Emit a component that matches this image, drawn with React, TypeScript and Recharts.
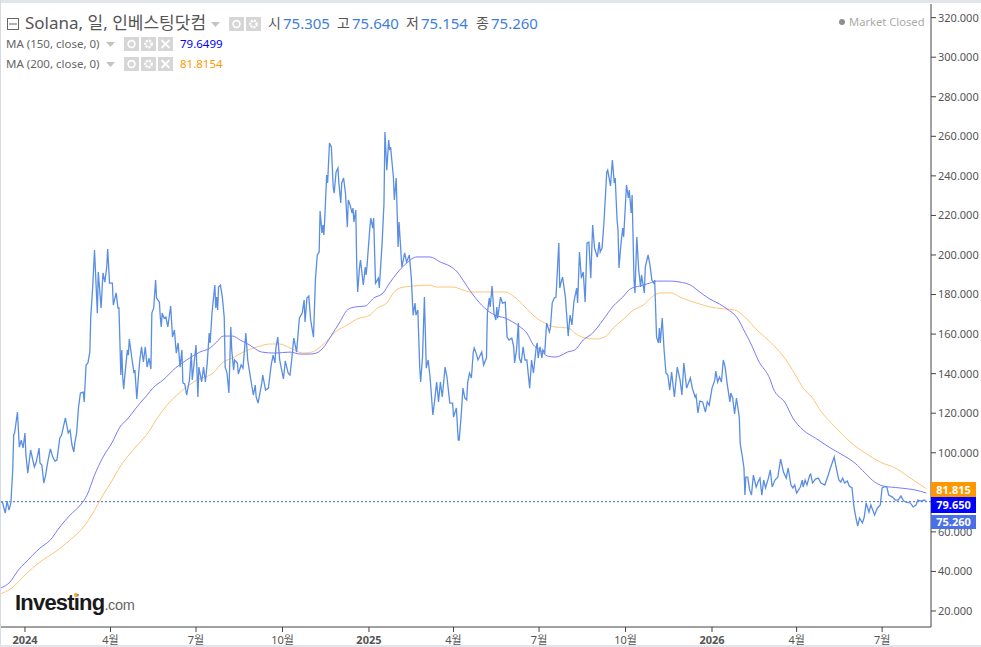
import { ComposedChart, Line, XAxis, YAxis, ReferenceLine } from "recharts";

// days counted from 2024-01-01
const priceDays = [
  -26, -24, -21, -19, -17, -15, -13, -12, -11, -8,
  -6, -4, -2, 0, 1, 3, 6, 10, 12, 15,
  16, 18, 20, 22, 24, 27, 30, 32, 34, 37,
  39, 43, 46, 48, 50, 52, 53, 55, 57, 59,
  62, 63, 65, 67, 69, 70, 72, 74, 77, 78,
  81, 83, 85, 87, 88, 90, 93, 94, 97, 99,
  100, 102, 103, 104, 105, 107, 109, 110, 111, 114,
  116, 117, 119, 121, 122, 124, 126, 128, 130, 132,
  134, 135, 137, 139, 140, 143, 144, 145, 146, 148,
  150, 152, 155, 157, 159, 161, 163, 165, 167, 168,
  170, 172, 175, 177, 178, 180, 182, 184, 185, 188,
  190, 192, 194, 196, 197, 199, 202, 203, 204, 205,
  206, 208, 210, 212, 213, 215, 217, 219, 220, 222,
  223, 226, 227, 230, 232, 235, 237, 240, 243, 245,
  246, 248, 252, 253, 256, 259, 262, 264, 266, 267,
  269, 271, 275, 277, 280, 282, 284, 286, 289, 292,
  295, 297, 298, 300, 302, 304, 307, 309, 311, 313,
  314, 316, 317, 318, 319, 321, 322, 324, 326, 328,
  329, 331, 333, 334, 336, 337, 339, 341, 343, 344,
  346, 348, 349, 350, 352, 353, 354, 356, 357, 360,
  362, 363, 364, 367, 368, 370, 371, 372, 373, 376,
  377, 380, 382, 383, 385, 387, 388, 389, 392, 393,
  395, 397, 398, 401, 404, 406, 409, 411, 413, 415,
  416, 418, 420, 421, 423, 425, 427, 429, 431, 434,
  436, 438, 440, 442, 444, 447, 449, 452, 455, 456,
  459, 461, 462, 464, 466, 468, 470, 471, 473, 475,
  477, 478, 480, 482, 486, 488, 491, 492, 494, 495,
  497, 499, 501, 502, 503, 506, 508, 511, 513, 515,
  518, 520, 521, 523, 525, 526, 528, 530, 532, 534,
  537, 539, 541, 544, 545, 546, 548, 550, 551, 553,
  555, 558, 559, 561, 563, 565, 568, 569, 571, 572,
  575, 578, 580, 582, 584, 587, 588, 590, 592, 594,
  596, 598, 600, 602, 604, 606, 609, 611, 612, 614,
  616, 619, 620, 623, 625, 627, 628, 630, 631, 632,
  634, 636, 637, 640, 642, 643, 645, 646, 648, 649,
  651, 653, 655, 656, 659, 660, 663, 665, 667, 669,
  670, 672, 674, 675, 676, 678, 680, 682, 684, 686,
  688, 691, 694, 697, 699, 701, 704, 708, 710, 713,
  714, 716, 718, 721, 724, 726, 728, 731, 734, 735,
  737, 739, 741, 743, 745, 747, 750, 751, 753, 755,
  757, 760, 761, 762, 763, 765, 766, 767, 769, 771,
  773, 775, 778, 780, 782, 784, 786, 788, 791, 793,
  795, 798, 801, 804, 807, 810, 812, 815, 817, 819,
  821, 825, 827, 828, 830, 832, 835, 836, 838, 841,
  844, 847, 851, 854, 857, 861, 863, 866, 868, 870,
  872, 875, 877, 880, 882, 884, 886, 888, 891, 893,
  895, 898, 900, 904, 907, 910, 912, 914, 917, 919,
  923, 926, 929, 932, 935, 938, 942, 945, 948, 950,
  953, 957, 959,
];

const priceValues = [
  75.1, 75.1, 69.5, 75.6, 71.0, 74.6, 91.3, 109, 110, 120.6,
  102.9, 106.4, 102.4, 110, 98.9, 89.7, 101.4, 92.8, 95.3, 102.4,
  94.8, 93.8, 84.7, 88.7, 94.8, 101.9, 97.3, 95.8, 96.3, 107.4,
  109, 117.6, 110, 111.5, 103.9, 100.4, 104.9, 110, 123.1, 130.2,
  130.7, 125.7, 144.4, 145.4, 150.9, 168.6, 183.3, 202.5, 170.6, 191.4,
  173.2, 190.9, 186.3, 193.9, 203, 185.8, 185.8, 174.7, 180.8, 173.2,
  173.2, 139.3, 152, 138.3, 132.2, 142.8, 152, 149.4, 157.5, 146.9,
  140.3, 141.8, 127.2, 140.3, 145.9, 153.5, 145.9, 153.5, 143.3, 147.9,
  142.3, 170.6, 173.2, 187.3, 178.2, 176.2, 168.6, 163.6, 170.6, 168.1,
  168.6, 163.6, 174.2, 158.5, 162.1, 150.4, 155.5, 143.3, 152, 135.3,
  134.8, 129.2, 136.8, 150.4, 136.8, 145.4, 154.5, 128.2, 143.3, 135.8,
  143.3, 135.8, 145.9, 160.5, 155.5, 170.6, 184.8, 173.2, 178.7, 172.2,
  183.8, 184.8, 178.7, 168.6, 143.3, 140.3, 130.2, 163.6, 152, 141.8,
  146.9, 145.4, 139.8, 144.4, 142.8, 160.5, 146.9, 137.8, 129.2, 134.2,
  128.2, 125.1, 135.3, 139.3, 131.7, 132.7, 144.4, 149.4, 145.4, 153,
  158.5, 146.9, 137.3, 146.4, 140.3, 139.3, 147.9, 158, 150.9, 168.1,
  170.6, 177.2, 166.1, 178.2, 179.2, 167.1, 158.5, 187.3, 200, 201.5,
  222.2, 211.1, 215.1, 210.1, 218.7, 240.4, 236.4, 256.6, 254.6, 234.3,
  231.3, 241.9, 243.9, 236.4, 226.3, 236.4, 238.9, 231.3, 214.1, 227.8,
  225.2, 221.2, 223.7, 216.7, 222.7, 194.9, 181.3, 193.9, 197.4, 184.8,
  193.9, 189.9, 194.9, 214.1, 218.7, 213.6, 218.7, 201.5, 185.8, 188.3,
  183.3, 206, 226.3, 262.2, 242.9, 258.1, 253.1, 254.6, 239.4, 227.8,
  238.9, 204, 216.7, 193.9, 201, 196.4, 200, 188.8, 169.6, 175.7,
  169.6, 172.2, 143.3, 135.8, 148.4, 178.7, 142.8, 146.9, 138.3, 119.1,
  126.7, 135.8, 125.7, 135.8, 128.2, 143.3, 138.3, 125.1, 125.1, 118,
  122.6, 106.4, 106.4, 118, 132.7, 127.7, 126.7, 135.3, 140.3, 137.8,
  150.9, 153, 150.4, 146.9, 150.9, 144.4, 147.9, 170.6, 178.2, 173.7,
  184.3, 170.6, 167.1, 173.7, 168.1, 178.7, 175.7, 176.2, 158.5, 157,
  158, 153.5, 145.4, 152, 165.6, 147.9, 145.4, 153.5, 146.9, 146.9,
  132.7, 146.9, 140.3, 153.5, 155.5, 147.9, 153.5, 147.9, 152, 150.4,
  165.6, 161, 163.1, 175.7, 178.2, 178.7, 206, 183.3, 187.3, 188.8,
  178.7, 159, 169.6, 164.6, 176.2, 183.3, 175.7, 201.5, 188.3, 191.4,
  176.2, 206, 206.5, 188.3, 215.1, 203.5, 198.9, 206.5, 201.5, 203.5,
  216.2, 241.9, 242.9, 234.9, 248, 236.4, 238.9, 217.7, 212.6, 193.4,
  205, 213.6, 209.1, 235.4, 228.8, 232.8, 221.2, 230.3, 187.3, 180.8,
  209.1, 192.4, 183.8, 189.9, 180.8, 193.9, 200, 194.9, 187.3, 185.8,
  187.3, 158.5, 155.5, 163.1, 155.5, 168.1, 152, 140.3, 139.3, 131.7,
  140.8, 128.2, 143.3, 136.8, 129.2, 145.4, 132.7, 137.8, 132.7, 128.2,
  129.2, 120.1, 126.1, 125.7, 120.6, 125.7, 124.1, 132.7, 136.8, 141.3,
  135.8, 138.3, 135.8, 146.9, 143.3, 135.3, 125.7, 130.2, 127.7, 119.6,
  127.7, 118, 104.9, 101.4, 98.9, 92.3, 78.6, 87.7, 87.7, 81.2,
  78.6, 88.7, 82.7, 85.2, 87.2, 78.6, 86.2, 82.2, 87.2, 91.3,
  82.7, 86.2, 87.7, 96.8, 90.3, 87.2, 92.3, 83.7, 82.2, 83.7,
  79.6, 82.7, 86.2, 82.7, 86.2, 83.7, 88.7, 89.2, 84.7, 86.7,
  87.2, 84.7, 83.7, 87.7, 92.3, 97.8, 92.8, 86.2, 85.2, 87.2,
  84.7, 85.7, 83.2, 82.2, 72.6, 67.5, 62.9, 67, 64.5, 67.5,
  74.6, 70, 73.6, 68.5, 72.1, 73.6, 82.2, 82.7, 82.7, 78.6,
  77.6, 76.1, 76.1, 78.1, 75.6, 75.1, 74.6, 72.6, 73.6, 76.1,
  75.6, 76.1, 75.26,
];

const ma150Days = [
  -26, -16, -7, 0, 16, 27, 37, 48, 59, 66, 74, 83, 93, 101, 109, 119, 130, 136, 147, 160,
  172, 186, 197, 204, 211, 221, 229, 239, 252, 266, 282, 293, 303, 310, 318, 325, 335, 343, 351, 362,
  371, 381, 388, 396, 406, 417, 431, 442, 452, 460, 466, 477, 489, 500, 511, 519, 527, 534, 541, 548,
  556, 564, 569, 577, 585, 594, 604, 615, 626, 636, 644, 654, 665, 672, 686, 697, 708, 718, 727, 739,
  747, 758, 766, 774, 780, 793, 796, 809, 817, 828, 841, 857, 872, 883, 894, 904, 913, 931, 947, 959,
];

const ma150Values = [
  31.6, 34.6, 40.7, 44.2, 51.8, 55.9, 62.4, 68.5, 73.6, 78.6, 88.7, 97.8, 105.4, 113, 117, 123.1, 129.2, 132.7, 136.8, 142.8,
  146.9, 150.9, 153, 156, 159, 159, 157, 154.5, 150.9, 150.4, 150.9, 149.9, 149.9, 150.4, 153.5, 158.5, 166.1, 172.2, 173.7, 174.2,
  178.2, 180.8, 185.8, 190.9, 195.9, 199, 199, 196.4, 194.4, 191.4, 187.3, 179.7, 173.2, 169.6, 168.1, 166.1, 163.6, 160.5, 154.5, 152,
  148.9, 148.4, 148.9, 150.9, 152, 157, 160.5, 167.1, 174.2, 178.7, 182.8, 184.3, 185.8, 186.8, 186.8, 186.3, 184.8, 181.3, 178.2, 175.2,
  172.7, 168.1, 161, 153.5, 146.9, 136.8, 132.7, 125.1, 117.6, 111.5, 107.4, 102.4, 98.3, 94.8, 89.7, 85.2, 83.2, 82.2, 81.2, 79.65,
];

const ma200Days = [
  -26, -14, 0, 16, 32, 48, 64, 74, 83, 93, 101, 115, 133, 140, 154, 168, 183, 200, 211, 221,
  232, 247, 261, 271, 282, 296, 305, 314, 320, 330, 343, 353, 367, 375, 385, 392, 399, 413, 431, 438,
  455, 466, 473, 511, 521, 532, 543, 553, 564, 578, 585, 596, 606, 617, 626, 638, 646, 658, 667, 676,
  688, 697, 708, 718, 729, 745, 755, 766, 779, 793, 809, 821, 828, 838, 846, 862, 878, 894, 910, 926,
  942, 959,
];

const ma200Values = [
  28.6, 31.6, 38.2, 44.8, 49.8, 55.9, 63.5, 71, 78.6, 86.2, 92.8, 101.4, 111.5, 117, 125.6, 131.7, 136.8, 140.3, 145.9, 147.9,
  150.9, 153.5, 155, 155, 153, 150.4, 150.9, 153.5, 156, 161, 164.6, 167.6, 169.6, 173.2, 175.7, 180.8, 183.3, 184.3, 184.8, 183.8,
  183.8, 182.3, 181.3, 181.3, 178.7, 173.7, 168.6, 165.6, 163.6, 163.1, 160.5, 158, 157.5, 158.5, 163.1, 168.1, 171.7, 174.7, 178.7, 180.8,
  180.8, 178.7, 176.7, 175.2, 173.7, 172.7, 172.2, 168.6, 162, 156, 147.4, 138.3, 132.7, 127.7, 121.6, 113, 105.4, 99.9, 95.3, 92.3,
  87.2, 81.815,
];

// the 80.000 tick sits behind the last value tags in the original, so it is left out
const priceTicks = [20, 40, 60, 100, 120, 140, 160, 180, 200, 220, 240, 260, 280, 300, 320];
const timeTicks = [0, 91, 182, 274, 366, 456, 547, 639, 731, 821, 912];
const timeLabels = ["2024", "4월", "7월", "10월", "2025", "4월", "7월", "10월", "2026", "4월", "7월"];
const yearTicks = [0, 366, 731];

const lastClose = 75.26;

const toRows = (days: number[], values: number[]) => days.map((day, i) => ({ day, value: values[i] }));

const priceRows = toRows(priceDays, priceValues);
const ma150Rows = toRows(ma150Days, ma150Values);
const ma200Rows = toRows(ma200Days, ma200Values);

const FONT = "'Noto Sans', 'Noto Sans CJK KR', sans-serif";
const AXIS = "#444";

function TimeTick({ x, y, payload }: any) {
  const label = timeLabels[timeTicks.indexOf(payload.value)];
  return (
    <text x={x} y={y + 10} textAnchor="middle" fontFamily={FONT} fontSize={11} fill="#555" fontWeight={yearTicks.includes(payload.value) ? 700 : 400}>
      {label}
    </text>
  );
}

function IconBox({ left, top, kind }: { left: number; top: number; kind: string }) {
  return (
    <svg style={{ position: "absolute", left, top }} width={15} height={14}>
      <rect width={15} height={14} fill="#d6d6d6" />
      {kind === "eye" && <circle cx={7.5} cy={7} r={3.4} fill="none" stroke="#fff" strokeWidth={1.6} />}
      {kind === "gear" && <circle cx={7.5} cy={7} r={3.2} fill="none" stroke="#fff" strokeWidth={2.4} strokeDasharray="2 1" />}
      {kind === "x" && <path d="M3.5 3 L11.5 11 M11.5 3 L3.5 11" stroke="#fff" strokeWidth={1.8} />}
    </svg>
  );
}

function Caret({ left, top }: { left: number; top: number }) {
  return (
    <svg style={{ position: "absolute", left, top }} width={9} height={5}>
      <path d="M0 0 L9 0 L4.5 5 Z" fill="#c4c4c4" />
    </svg>
  );
}

function Txt({ left, top, size, color, weight, children }: any) {
  return (
    <div style={{ position: "absolute", left, top, fontSize: size, color, fontWeight: weight ?? 400, whiteSpace: "nowrap", lineHeight: "16px", fontFamily: FONT }}>
      {children}
    </div>
  );
}

function PriceTag({ top, height, bg, children }: any) {
  return (
    <div style={{ position: "absolute", left: 931, top, width: 45, height, background: bg, color: "#fff", fontSize: 11, fontWeight: 700, textAlign: "center", lineHeight: height + "px", fontFamily: FONT }}>
      {children}
    </div>
  );
}

export default function App() {
  return (
    <div style={{ position: "absolute", left: 0, top: 0, width: 981, height: 647, background: "#fff", overflow: "hidden" }}>
      <ComposedChart width={981} height={647} margin={{ top: 4, right: 0, bottom: 0, left: 1 }}>
        <XAxis
          dataKey="day"
          type="number"
          domain={[-25.5, 964]}
          allowDataOverflow
          ticks={timeTicks}
          tick={<TimeTick />}
          height={20}
          stroke={AXIS}
          tickLine={{ stroke: AXIS }}
          tickSize={5}
          interval={0}
        />
        <YAxis
          orientation="right"
          type="number"
          domain={[11.9, 326.9]}
          allowDataOverflow
          ticks={priceTicks}
          width={50}
          stroke={AXIS}
          tickSize={5}
          interval={0}
          tickFormatter={(v: number) => v.toFixed(3)}
          tick={{ fontSize: 11, fill: "#555", fontFamily: FONT }}
        />
        <ReferenceLine y={lastClose} stroke="#3f66d8" strokeDasharray="2 2" strokeWidth={1} />
        <Line data={ma200Rows} type="monotone" dataKey="value" name="MA200" stroke="#ffc478" strokeWidth={1} dot={false} isAnimationActive={false} />
        <Line data={ma150Rows} type="monotone" dataKey="value" name="MA150" stroke="#7a7aff" strokeWidth={1} dot={false} isAnimationActive={false} />
        <Line data={priceRows} dataKey="value" name="Solana" stroke="#5a8ee2" strokeWidth={1.3} dot={false} isAnimationActive={false} />
      </ComposedChart>

      {/* page frame */}
      <div style={{ position: "absolute", left: 0, top: 0, width: 981, height: 3, background: "#e2e6ea" }} />
      <div style={{ position: "absolute", left: 0, top: 0, width: 1, height: 647, background: "#d5dbe0" }} />
      <div style={{ position: "absolute", left: 0, top: 645, width: 981, height: 2, background: "#e2e6ea" }} />

      {/* legend */}
      <svg style={{ position: "absolute", left: 7, top: 18 }} width={12} height={12}>
        <rect x={0.5} y={0.5} width={11} height={11} fill="none" stroke="#666" />
        <path d="M2 6 H10" stroke="#666" />
      </svg>
      <Txt left={25} top={15} size={17} color="#555">Solana, 일, 인베스팅닷컴</Txt>
      <Caret left={211} top={22} />
      <IconBox left={229} top={17} kind="eye" />
      <IconBox left={246} top={17} kind="gear" />
      <Txt left={268} top={15} size={14} color="#555">시</Txt>
      <Txt left={283} top={15} size={15} color="#3f7fd8">75.305</Txt>
      <Txt left={337} top={15} size={14} color="#555">고</Txt>
      <Txt left={352} top={15} size={15} color="#3f7fd8">75.640</Txt>
      <Txt left={406} top={15} size={14} color="#555">저</Txt>
      <Txt left={421} top={15} size={15} color="#3f7fd8">75.154</Txt>
      <Txt left={476} top={15} size={14} color="#555">종</Txt>
      <Txt left={491} top={15} size={15} color="#3f7fd8">75.260</Txt>

      <Txt left={6} top={36} size={11.5} color="#666">MA (150, close, 0)</Txt>
      <Caret left={106} top={42} />
      <IconBox left={124} top={37} kind="eye" />
      <IconBox left={141} top={37} kind="gear" />
      <IconBox left={158} top={37} kind="x" />
      <Txt left={180} top={36} size={11.5} color="#0000ff">79.6499</Txt>

      <Txt left={6} top={56} size={11.5} color="#666">MA (200, close, 0)</Txt>
      <Caret left={106} top={62} />
      <IconBox left={124} top={57} kind="eye" />
      <IconBox left={141} top={57} kind="gear" />
      <IconBox left={158} top={57} kind="x" />
      <Txt left={180} top={56} size={11.5} color="#ff9800">81.8154</Txt>

      <div style={{ position: "absolute", left: 839, top: 19, width: 6, height: 6, borderRadius: 3, background: "#8f8f8f" }} />
      <Txt left={849} top={14} size={11.2} color="#aaa">Market Closed</Txt>

      {/* last value tags */}
      <PriceTag top={482} height={15} bg="#ff9800">81.815</PriceTag>
      <PriceTag top={497} height={16} bg="#0000ff">79.650</PriceTag>
      <PriceTag top={515} height={14} bg="#4a70e8">75.260</PriceTag>

      {/* logo */}
      <div style={{ position: "absolute", left: 15, top: 589, fontFamily: "'Liberation Sans', sans-serif", whiteSpace: "nowrap", lineHeight: "28px" }}>
        <span style={{ fontSize: 22, fontWeight: 700, color: "#1a1a1a", letterSpacing: -0.8 }}>Investing</span>
        <span style={{ fontSize: 14.5, color: "#666", letterSpacing: -0.3 }}>.com</span>
      </div>
      <div style={{ position: "absolute", left: 74, top: 593, width: 4, height: 4, borderRadius: 2, background: "#f5a623" }} />
    </div>
  );
}
